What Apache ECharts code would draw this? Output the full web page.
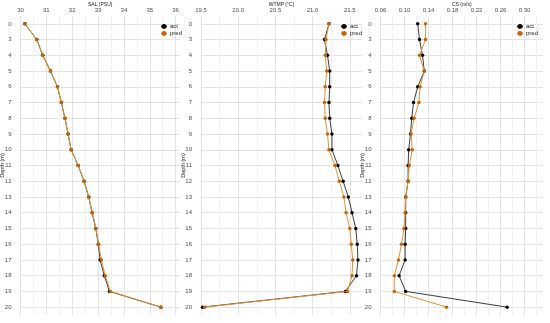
<!DOCTYPE html>
<html><head><meta charset="utf-8">
<script src="https://cdn.jsdelivr.net/npm/echarts@6/dist/echarts.min.js"></script>
<style>html,body{margin:0;padding:0;background:#fff}#c{width:550px;height:323px}</style>
</head><body><div id="c"></div>
<script>
const depth = ['0','3','4','5','6','7','8','9','10','11','12','13','14','15','16','17','18','19','20'];
const salAct  = [30.17,30.63,30.86,31.16,31.43,31.58,31.72,31.84,31.96,32.23,32.46,32.64,32.77,32.91,33.01,33.08,33.24,33.44,35.43];
const salPred = [30.17,30.63,30.86,31.16,31.43,31.58,31.72,31.84,31.96,32.23,32.46,32.64,32.78,32.92,33.02,33.13,33.28,33.48,35.43];
const wtmpAct  = [21.22,21.16,21.20,21.23,21.23,21.22,21.23,21.26,21.26,21.34,21.41,21.48,21.53,21.58,21.60,21.61,21.59,21.44,19.52];
const wtmpPred = [21.22,21.18,21.17,21.19,21.17,21.16,21.17,21.20,21.22,21.30,21.36,21.42,21.45,21.50,21.52,21.54,21.53,21.47,19.55];
const csAct  = [0.122,0.125,0.130,0.133,0.122,0.115,0.112,0.110,0.107,0.106,0.106,0.102,0.102,0.102,0.101,0.101,0.091,0.102,0.271];
const csPred = [0.135,0.135,0.125,0.133,0.126,0.124,0.116,0.111,0.113,0.108,0.106,0.102,0.101,0.099,0.095,0.090,0.083,0.083,0.170];

const panels = [
  {title:'SAL (PSU)', act:salAct, pred:salPred, left:20.5, right:180, min:30, max:36.17, step:0.5, dec:0, labelStep:1},
  {title:'WTMP (°C)', act:wtmpAct, pred:wtmpPred, left:201, right:362, min:19.5, max:21.664, step:0.25, dec:1, labelStep:0.5},
  {title:'CS (m/s)', act:csAct, pred:csPred, left:380.5, right:543, min:0.06, max:0.3308, step:0.02, dec:2, labelStep:0.04}
];
const legendLeft = [160, 340, 516];
const FONT = 'Liberation Sans, Arial, sans-serif';
const ACT_PT = '#000000', ACT_LN = '#3d3d3d', PRED_PT = '#C4640A', PRED_LN = '#D9953F';

const grid = [], xAxis = [], yAxis = [], series = [], legend = [];
panels.forEach((p, i) => {
  grid.push({left:p.left, width:p.right - p.left, top:16, height:299, containLabel:false, outerBoundsMode:'none'});
  xAxis.push({
    gridIndex:i, type:'value', position:'top', min:p.min, max:p.max, interval:p.step,
    name:p.title, nameLocation:'middle', nameGap:9, nameMoveOverlap:false,
    nameTextStyle:{fontSize:5, color:'#1a1a1a', fontFamily:FONT},
    axisLine:{show:false}, axisTick:{show:false},
    axisLabel:{margin:3, fontSize:6, color:'#4D4D4D', fontFamily:FONT, showMaxLabel:false,
      formatter:(v)=>{ const k=(v-p.min)/p.labelStep; return Math.abs(k-Math.round(k))<1e-6 ? Number(v).toFixed(p.dec) : ''; }},
    splitLine:{show:true, showMaxLine:false, lineStyle:{color:['#E3E3E3','#F1F1F1'], width:1}}
  });
  yAxis.push({
    gridIndex:i, type:'category', data:depth, inverse:true,
    name:'Depth (m)', nameLocation:'middle', nameGap:15, nameRotate:90, nameMoveOverlap:false,
    nameTextStyle:{fontSize:5.5, color:'#1a1a1a', fontFamily:FONT},
    axisLine:{show:false}, axisTick:{show:false, alignWithLabel:true},
    axisLabel:{margin:9, fontSize:6, color:'#4D4D4D', fontFamily:FONT, interval:0},
    splitLine:{show:true, alignWithLabel:true, interval:0, lineStyle:{color:'#E3E3E3', width:1}}
  });
  series.push({
    name:'act', type:'line', xAxisIndex:i, yAxisIndex:i,
    data: depth.map((d,j)=>[p.act[j], d]),
    symbol:'circle', symbolSize:3.5, showSymbol:true,
    itemStyle:{color:ACT_PT}, lineStyle:{color:ACT_LN, width:1}, animation:false, z:2
  });
  series.push({
    name:'pred', type:'line', xAxisIndex:i, yAxisIndex:i,
    data: depth.map((d,j)=>[p.pred[j], d]),
    symbol:'circle', symbolSize:3.5, showSymbol:true,
    itemStyle:{color:PRED_PT}, lineStyle:{color:PRED_LN, width:1}, animation:false, z:3
  });
  legend.push({
    orient:'vertical', left:legendLeft[i], top:23.5, padding:0, itemGap:1,
    itemWidth:6, itemHeight:6, data:['act','pred'],
    textStyle:{fontSize:6, color:'#1a1a1a', fontFamily:FONT, padding:[0,0,0,-2], lineHeight:6}
  });
});

const chart = echarts.init(document.getElementById('c'), null, {renderer:'canvas'});
chart.setOption({animation:false, backgroundColor:'#ffffff', grid, xAxis, yAxis, series, legend});
</script>
</body></html>
